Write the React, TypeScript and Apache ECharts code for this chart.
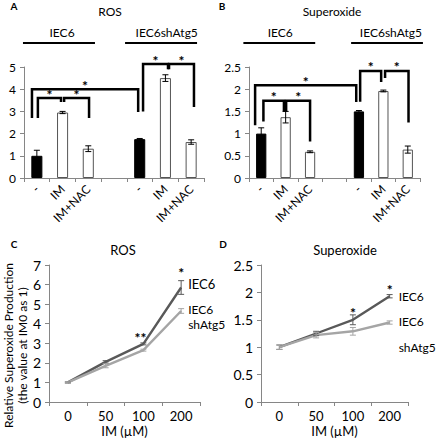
import React, { useEffect, useRef } from 'react';
import * as echarts from 'echarts';

const FONT = 'Lato, "Open Sans", sans-serif';

// ---- Panels A & B (bar charts) ----
const barCategories = ['-', 'IM', 'IM+NAC', '', '-', 'IM', 'IM+NAC'];
const rosBarValues = [1.0, 2.95, 1.32, null, 1.75, 4.5, 1.62];
const rosBarErrors = [0.25, 0.05, 0.13, null, 0.03, 0.15, 0.1];
const supBarValues = [1.0, 1.37, 0.59, null, 1.5, 1.96, 0.64];
const supBarErrors = [0.13, 0.13, 0.02, null, 0.02, 0.02, 0.08];
const barFilled = [true, false, false, false, true, false, false];

// significance brackets: [x1, x2, top, leftBottom, rightBottom] (x in category units 0..7)
const rosBrackets = [
  [0.31, 4.44, 4.0, 2.7, 2.97],
  [0.54, 1.44, 3.6, 2.7, 3.42],
  [1.56, 2.53, 3.6, 3.42, 2.7],
  [4.63, 5.6, 5.13, 3.0, 4.9],
  [5.64, 6.61, 5.13, 4.9, 3.2],
];
const supBrackets = [
  [0.25, 4.39, 2.09, 1.19, 1.71],
  [0.59, 1.43, 1.74, 1.27, 1.49],
  [1.52, 2.5, 1.74, 1.49, 0.82],
  [4.55, 5.41, 2.41, 1.72, 2.16],
  [5.57, 6.53, 2.41, 2.25, 1.25],
];
// group header lines: [x1, x2, y, textX]
const groupLabels = ['IEC6', 'IEC6shAtg5'];
const rosGroups = [
  [-0.04, 2.76, 6.08, 1.48],
  [3.93, 6.73, 6.08, 5.55],
];
const supGroups = [
  [-0.23, 2.71, 3.04, 1.28],
  [4.18, 7.12, 3.04, 5.81],
];

// ---- Panels C & D (line charts) ----
const doseCategories = ['0', '50', '100', '200'];
const rosIEC6 = [1.0, 2.05, 2.97, 5.85];
const rosIEC6Err = [0.03, 0.06, 0.05, 0.35];
const rosShAtg5 = [1.0, 1.85, 2.65, 4.65];
const rosShAtg5Err = [0.03, 0.1, 0.05, 0.12];
const supIEC6 = [1.0, 1.25, 1.5, 1.93];
const supIEC6Err = [0.04, 0.04, 0.09, 0.03];
const supShAtg5 = [1.0, 1.22, 1.29, 1.45];
const supShAtg5Err = [0.04, 0.05, 0.07, 0.03];
const rosStarIdx = [2, 3];
const rosStarY = [3.3, 6.6];
const rosStarText = ['**', '*'];
const supStarIdx = [2, 3];
const supStarY = [1.64, 2.06];
const supStarText = ['*', '*'];

const DARK = '#595959';
const LIGHT = '#a5a5a5';
const AXIS = '#868686';

function barErrorSeries(values: any[], errors: any[], xi: number, yi: number) {
  const data: number[][] = [];
  values.forEach((v, i) => {
    if (v != null) data.push([i, v, errors[i]]);
  });
  return {
    type: 'custom', xAxisIndex: xi, yAxisIndex: yi, data, z: 5, silent: true,
    renderItem: (params: any, api: any) => {
      const x = api.value(0), v = api.value(1), e = api.value(2);
      const t = api.coord([x, v + e]);
      const b = api.coord([x, v - e]);
      const w = 3;
      const st = { stroke: '#000', lineWidth: 1 };
      return {
        type: 'group', children: [
          { type: 'line', shape: { x1: t[0], y1: t[1], x2: b[0], y2: b[1] }, style: st },
          { type: 'line', shape: { x1: t[0] - w, y1: t[1], x2: t[0] + w, y2: t[1] }, style: st },
          { type: 'line', shape: { x1: b[0] - w, y1: b[1], x2: b[0] + w, y2: b[1] }, style: st },
        ],
      };
    },
  };
}

function lineErrorSeries(values: number[], errors: number[], xi: number, yi: number, color: string) {
  const data = values.map((v, i) => [i, v, errors[i]]);
  return {
    type: 'custom', xAxisIndex: xi, yAxisIndex: yi, data, z: 4, silent: true,
    renderItem: (params: any, api: any) => {
      const x = api.value(0), v = api.value(1), e = api.value(2);
      const t = api.coord([x, v + e]);
      const b = api.coord([x, v - e]);
      const w = 3;
      const st = { stroke: color, lineWidth: 1 };
      return {
        type: 'group', children: [
          { type: 'line', shape: { x1: t[0], y1: t[1], x2: b[0], y2: b[1] }, style: st },
          { type: 'line', shape: { x1: t[0] - w, y1: t[1], x2: t[0] + w, y2: t[1] }, style: st },
          { type: 'line', shape: { x1: b[0] - w, y1: b[1], x2: b[0] + w, y2: b[1] }, style: st },
        ],
      };
    },
  };
}

function bracketSeries(brackets: number[][], xi: number, yi: number) {
  return {
    type: 'custom', xAxisIndex: xi, yAxisIndex: yi, data: brackets, z: 6, silent: true, clip: false,
    renderItem: (params: any, api: any) => {
      const x1 = api.value(0), x2 = api.value(1), top = api.value(2), lb = api.value(3), rb = api.value(4);
      const p1 = api.coord([x1, lb]);
      const p2 = api.coord([x1, top]);
      const p3 = api.coord([x2, top]);
      const p4 = api.coord([x2, rb]);
      return {
        type: 'group', children: [
          { type: 'polyline', shape: { points: [p1, p2, p3, p4] }, style: { stroke: '#000', lineWidth: 2.5, fill: null } },
          {
            type: 'text', x: (p2[0] + p3[0]) / 2, y: p2[1] - 4,
            style: { text: '*', font: `bold 14px ${FONT}`, fill: '#000', align: 'center', verticalAlign: 'middle' },
          },
        ],
      };
    },
  };
}

function groupSeries(groups: number[][], xi: number, yi: number) {
  return {
    type: 'custom', xAxisIndex: xi, yAxisIndex: yi, data: groups, z: 6, silent: true, clip: false,
    renderItem: (params: any, api: any) => {
      const a = api.coord([api.value(0), api.value(2)]);
      const b = api.coord([api.value(1), api.value(2)]);
      const t = api.coord([api.value(3), api.value(2)]);
      return {
        type: 'group', children: [
          { type: 'line', shape: { x1: a[0], y1: a[1], x2: b[0], y2: b[1] }, style: { stroke: '#000', lineWidth: 2 } },
          {
            type: 'text', x: t[0], y: a[1] - 11,
            style: { text: groupLabels[params.dataIndex], font: `12px ${FONT}`, fill: '#000', align: 'center', verticalAlign: 'middle' },
          },
        ],
      };
    },
  };
}

function starSeries(idx: number[], ys: number[], texts: string[], xi: number, yi: number) {
  const data = idx.map((c, i) => [c, ys[i]]);
  return {
    type: 'custom', xAxisIndex: xi, yAxisIndex: yi, data, z: 6, silent: true, clip: false,
    renderItem: (params: any, api: any) => {
      const p = api.coord([api.value(0), api.value(1)]);
      const txt = texts[params.dataIndex];
      const multi = txt.length > 1;
      return {
        type: 'text', x: multi ? p[0] + 3 : p[0], y: p[1],
        style: { text: txt, font: `bold 14px ${FONT}`, fill: '#000', align: multi ? 'right' : 'center', verticalAlign: 'middle' },
      };
    },
  };
}

function barData(values: any[]) {
  return values.map((v, i) => ({
    value: v == null ? '-' : v,
    itemStyle: barFilled[i]
      ? { color: '#000', borderColor: '#000', borderWidth: 1 }
      : { color: '#fff', borderColor: '#555', borderWidth: 1 },
  }));
}

const axisLineStyle = { show: true, lineStyle: { color: AXIS, width: 1 } };
const tickStyle = { show: true, length: 4, lineStyle: { color: AXIS } };

function catBarAxis(grid: number) {
  return {
    type: 'category', gridIndex: grid, data: barCategories, boundaryGap: true,
    axisLine: axisLineStyle, axisTick: { ...tickStyle, interval: 0 },
    axisLabel: { interval: 0, rotate: 45, fontSize: 12, fontFamily: FONT, color: '#000', margin: 9 },
  };
}
function hiddenValueAxis(grid: number) {
  return { type: 'value', gridIndex: grid, min: 0, max: 7, show: false };
}
function yValueAxis(grid: number, max: number, interval: number, fontSize: number) {
  return {
    type: 'value', gridIndex: grid, min: 0, max, interval,
    axisLine: axisLineStyle, axisTick: tickStyle, splitLine: { show: false },
    axisLabel: { fontSize, fontFamily: FONT, color: '#000', margin: 8 },
  };
}
function doseAxis(grid: number) {
  return {
    type: 'category', gridIndex: grid, data: doseCategories, boundaryGap: true,
    axisLine: axisLineStyle, axisTick: { ...tickStyle, interval: 0 },
    axisLabel: { interval: 0, fontSize: 13, fontFamily: FONT, color: '#000', margin: 7 },
    name: 'IM (\u00b5M)', nameLocation: 'middle', nameGap: 22,
    nameTextStyle: { fontSize: 13, fontFamily: FONT, color: '#000' },
  };
}

function lineSeries(data: number[], color: string, xi: number, yi: number, label: string, offset: number[], lineHeight: number, distance: number, fontSize: number) {
  return {
    type: 'line', xAxisIndex: xi, yAxisIndex: yi, data, symbol: 'none', z: 3,
    lineStyle: { color, width: 2.4 }, itemStyle: { color },
    endLabel: {
      show: true, formatter: label, distance, offset, color: '#000', fontSize, fontFamily: FONT, lineHeight,
      align: 'left',
    },
  };
}

function textEl(text: string, x: number, y: number, font: string) {
  return { type: 'text', x, y, style: { text, font, fill: '#000', align: 'center', verticalAlign: 'middle' } };
}

export default function App() {
  const ref = useRef<HTMLDivElement>(null);
  useEffect(() => {
    if (!ref.current) return;
    const chart = echarts.init(ref.current, null, { renderer: 'svg' });
    const option: any = {
      animation: false,
      backgroundColor: '#fff',
      textStyle: { fontFamily: FONT },
      grid: [
        { left: 24, top: 67, width: 180, height: 111 },
        { left: 249, top: 67, width: 171, height: 111 },
        { left: 43, top: 265, width: 157, height: 137 },
        { left: 261, top: 265, width: 147, height: 137 },
      ],
      xAxis: [
        catBarAxis(0),
        hiddenValueAxis(0),
        catBarAxis(1),
        hiddenValueAxis(1),
        doseAxis(2),
        doseAxis(3),
      ],
      yAxis: [
        yValueAxis(0, 5, 1, 12),
        yValueAxis(1, 2.5, 0.5, 12),
        {
          ...yValueAxis(2, 7, 1, 14),
          name: 'Relative Superoxide Production\n(the value at IM0 as 1)',
          nameLocation: 'middle', nameGap: 16,
          nameTextStyle: { fontSize: 12, fontFamily: FONT, color: '#000', lineHeight: 14, padding: [0, 24, 0, 0] },
        },
        yValueAxis(3, 2.5, 0.5, 14),
      ],
      graphic: [
        textEl('A', 14, 6, `bold 10px ${FONT}`),
        textEl('B', 222, 6, `bold 10px ${FONT}`),
        textEl('C', 14, 244, `bold 10px ${FONT}`),
        textEl('D', 223, 244, `bold 10px ${FONT}`),
        textEl('ROS', 110, 11, `12px ${FONT}`),
        textEl('Superoxide', 332, 11, `12px ${FONT}`),
        textEl('ROS', 123, 250, `13px ${FONT}`),
        textEl('Superoxide', 345, 250, `13px ${FONT}`),
      ],
      series: [
        { type: 'bar', xAxisIndex: 0, yAxisIndex: 0, data: barData(rosBarValues), barWidth: '43%', z: 2 },
        barErrorSeries(rosBarValues, rosBarErrors, 0, 0),
        bracketSeries(rosBrackets, 1, 0),
        groupSeries(rosGroups, 1, 0),
        { type: 'bar', xAxisIndex: 2, yAxisIndex: 1, data: barData(supBarValues), barWidth: '42%', z: 2 },
        barErrorSeries(supBarValues, supBarErrors, 2, 1),
        bracketSeries(supBrackets, 3, 1),
        groupSeries(supGroups, 3, 1),

        lineSeries(rosIEC6, DARK, 4, 2, 'IEC6', [0, -4], 14, 7, 13),
        lineSeries(rosShAtg5, LIGHT, 4, 2, 'IEC6\nshAtg5', [0, 6], 15, 7, 12),
        lineErrorSeries(rosIEC6, rosIEC6Err, 4, 2, DARK),
        lineErrorSeries(rosShAtg5, rosShAtg5Err, 4, 2, LIGHT),
        starSeries(rosStarIdx, rosStarY, rosStarText, 4, 2),

        lineSeries(supIEC6, DARK, 5, 3, 'IEC6', [0, 0], 14, 9, 12),
        lineSeries(supShAtg5, LIGHT, 5, 3, 'IEC6\nshAtg5', [0, 12], 26, 9, 12),
        lineErrorSeries(supIEC6, supIEC6Err, 5, 3, DARK),
        lineErrorSeries(supShAtg5, supShAtg5Err, 5, 3, LIGHT),
        starSeries(supStarIdx, supStarY, supStarText, 5, 3),
      ],
    };
    chart.setOption(option);
    return () => chart.dispose();
  }, []);
  return <div ref={ref} style={{ position: 'absolute', left: 0, top: 0, width: 436, height: 440 }} />;
}
